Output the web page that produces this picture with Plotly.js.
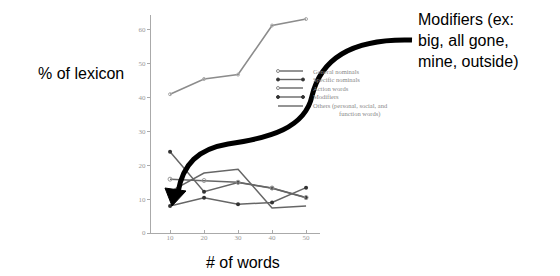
<!DOCTYPE html>
<html><head><meta charset="utf-8">
<script src="https://cdn.plot.ly/plotly-3.0.1.min.js"></script>
<style>html,body{margin:0;padding:0;background:#fff;}#chart{width:560px;height:276px;}</style>
</head><body><div id="chart"></div>
<script>
// ---- data ----
const wordCounts = [10, 20, 30, 40, 50];
const generalNominals = [41, 45.5, 46.8, 61.3, 63.2];
const specificNominals = [24, 12.2, 14.9, 13.2, 10.4];
const actionWords = [15.9, 15.5, 15.0, 13.3, 10.5];
const modifiers = [8.0, 10.4, 8.5, 9.0, 13.4];
const others = [12.2, 17.7, 18.8, 7.4, 8.0];
const seriesNames = ["General nominals", "Specific nominals", "Action words", "Modifiers", "Others (personal, social, and"];
const yTickVals = [0, 10, 20, 30, 40, 50, 60];
const xTickVals = [10, 20, 30, 40, 50];

// ---- layout helpers (pixel -> paper) ----
const L = 151, R = 320, T = 15, B = 233;
const px = x => (x - L) / (R - L);
const py = y => (B - y) / (B - T);

const lineCol = '#666';
const serif = 'Liberation Serif, DejaVu Serif, serif';
const sans = 'Liberation Sans, Arial, sans-serif';

const styles = [
  {color: '#8c8c8c', width: 1.6, marker: {symbol: 'circle-open', size: 3, color: '#aaa'}},
  {color: lineCol, width: 1.5, marker: {symbol: 'circle', size: 4, color: '#333'}},
  {color: lineCol, width: 1.5, marker: {symbol: 'circle-open', size: 4, color: '#999'}},
  {color: lineCol, width: 1.5, marker: {symbol: 'circle', size: 4, color: '#333'}},
  {color: lineCol, width: 1.5, marker: {size: 0.1, color: lineCol}}
];
const allSeries = [generalNominals, specificNominals, actionWords, modifiers, others];

const traces = allSeries.map((ys, i) => ({
  x: wordCounts, y: ys, name: seriesNames[i], type: 'scatter', mode: 'lines+markers',
  line: {color: styles[i].color, width: styles[i].width},
  marker: styles[i].marker, showlegend: false, hoverinfo: 'skip'
}));

// manual legend
const shapes = [];
const annotations = [];
const rowY = [71, 79.5, 88, 97, 106];
seriesNames.forEach((n, i) => {
  shapes.push({type: 'line', xref: 'paper', yref: 'paper', x0: px(278), x1: px(303), y0: py(rowY[i]), y1: py(rowY[i]),
    line: {color: '#666', width: 1.4}});
  annotations.push({xref: 'paper', yref: 'paper', x: px(311), y: py(rowY[i]), xanchor: 'left', yanchor: 'middle',
    text: n, showarrow: false, font: {family: serif, size: 6.5, color: '#888'}});
});
annotations.push({xref: 'paper', yref: 'paper', x: px(337), y: py(114), xanchor: 'left', yanchor: 'middle',
  text: 'function words)', showarrow: false, font: {family: serif, size: 6.5, color: '#888'}});
// legend symbol markers
[[278, 71, false], [278, 79.5, true], [303, 79.5, true], [278, 88, false], [278, 97, true], [303, 97, true]].forEach(([x, y, filled]) => {
  shapes.push({type: 'circle', xref: 'paper', yref: 'paper', x0: px(x - 1.5), x1: px(x + 1.5), y0: py(y + 1.5), y1: py(y - 1.5),
    fillcolor: filled ? '#333' : '#fff', line: {color: filled ? '#333' : '#888', width: 1}});
});

// text annotations
annotations.push({xref: 'paper', yref: 'paper', x: px(81), y: py(73), xanchor: 'center', yanchor: 'middle',
  text: '% of lexicon', showarrow: false, font: {family: sans, size: 16, color: '#000'}});
annotations.push({xref: 'paper', yref: 'paper', x: px(243), y: py(262), xanchor: 'center', yanchor: 'middle',
  text: '# of words', showarrow: false, font: {family: sans, size: 16, color: '#000'}});
annotations.push({xref: 'paper', yref: 'paper', x: px(416), y: py(40), xanchor: 'left', yanchor: 'middle', align: 'left',
  text: 'Modifiers (ex:<br>big, all gone,<br>mine, outside)', showarrow: false, font: {family: sans, size: 16, color: '#000'}});

// curved arrow
const P = (x, y) => px(x).toFixed(4) + ',' + py(y).toFixed(4);
shapes.push({type: 'path', xref: 'paper', yref: 'paper',
  path: 'M' + P(412, 40) + ' C' + P(348, 38) + ' ' + P(320, 62) + ' ' + P(312, 96) +
        ' C' + P(305, 128) + ' ' + P(270, 138) + ' ' + P(228, 144) +
        ' C' + P(198, 149) + ' ' + P(183, 164) + ' ' + P(178, 192),
  line: {color: '#000', width: 5}});
shapes.push({type: 'path', xref: 'paper', yref: 'paper',
  path: 'M' + P(165, 188) + ' L' + P(186, 191) + ' L' + P(172, 206) + ' Z',
  fillcolor: '#000', line: {color: '#000', width: 1}});

const axisFont = {family: serif, size: 7, color: '#999'};
const layout = {
  width: 560, height: 276,
  margin: {l: L, r: 560 - R, t: T, b: 276 - B},
  paper_bgcolor: '#fff', plot_bgcolor: '#fff',
  showlegend: false,
  xaxis: {range: [4.4, 54.1], tickvals: xTickVals, ticktext: xTickVals.map(String), showgrid: false, zeroline: false,
    showline: true, linecolor: '#aaa', linewidth: 1, ticks: 'inside', ticklen: 3, tickcolor: '#aaa', tickfont: axisFont,
    ticklabelstandoff: -2},
  yaxis: {range: [0, 64.4], tickvals: yTickVals, ticktext: yTickVals.map(String), showgrid: false, zeroline: false,
    showline: true, linecolor: '#aaa', linewidth: 1, ticks: 'outside', ticklen: 3, tickcolor: '#aaa', tickfont: axisFont},
  shapes: shapes, annotations: annotations
};
Plotly.newPlot('chart', traces, layout, {displayModeBar: false, staticPlot: true});
</script></body></html>
